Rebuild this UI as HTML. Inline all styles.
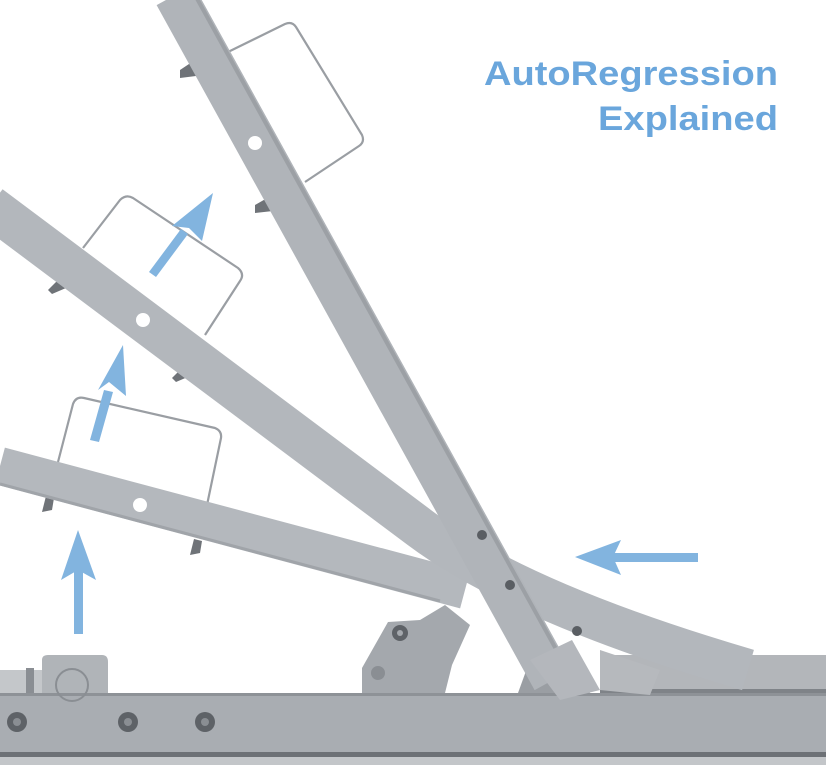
<!DOCTYPE html>
<html><head><meta charset="utf-8"><style>html,body{margin:0;padding:0;background:#fff}svg{display:block}</style></head>
<body>
<svg width="826" height="765" viewBox="0 0 826 765" xmlns="http://www.w3.org/2000/svg">
<rect width="826" height="765" fill="#fff"/>
<!-- handles -->
<g fill="none" stroke="#9a9ea3" stroke-width="2.2" stroke-linejoin="round">
<path d="M228,52 L285,24 Q292,21 296,27 L362,135 Q365,142 359,146 L305,182"/>
<path d="M83,248 L120,200 Q126,194 133,198 L238,268 Q245,274 240,281 L205,335"/>
<path d="M58,462 L73,404 Q76,396 84,398 L215,428 Q222,431 221,438 L207,505"/>
</g>
<!-- studs -->
<g fill="#6f7378">
<path d="M180,70 l12,-8 l4,14 l-16,2z"/><path d="M255,205 l14,-8 l4,14 l-18,2z"/>
<path d="M48,290 l10,-10 l8,8 l-14,6z"/><path d="M172,378 l10,-10 l8,8 l-14,6z"/>
<path d="M42,512 l4,-16 l8,2 l-2,12z"/><path d="M190,555 l4,-16 l8,2 l-2,12z"/>
</g>
<!-- base rail -->
<rect x="0" y="693" width="826" height="60" fill="#a9adb2"/>
<rect x="0" y="693" width="826" height="3" fill="#8e9297"/>
<rect x="0" y="752" width="826" height="5" fill="#6d7176"/>
<rect x="0" y="757" width="826" height="8" fill="#c3c6c9"/>
<rect x="600" y="655" width="226" height="38" fill="#b3b6ba"/>
<rect x="600" y="689" width="226" height="4" fill="#7f8388"/>
<path d="M42,660 Q42,655 48,655 L102,655 Q108,655 108,662 L108,693 L42,693z" fill="#b0b4b8"/>
<rect x="0" y="670" width="42" height="23" fill="#c4c7ca"/>
<rect x="26" y="668" width="8" height="25" fill="#8a8e93"/>
<circle cx="72" cy="685" r="16" fill="none" stroke="#8a8e93" stroke-width="2"/>
<g fill="#5e6267"><circle cx="17" cy="722" r="10"/><circle cx="128" cy="722" r="10"/><circle cx="205" cy="722" r="10"/></g>
<g fill="#8a8e93"><circle cx="17" cy="722" r="4"/><circle cx="128" cy="722" r="4"/><circle cx="205" cy="722" r="4"/></g>
<!-- bracket -->
<path d="M362,668 L388,622 L420,620 L445,605 L470,625 L452,665 L445,693 L362,693z" fill="#a4a8ad"/>
<path d="M518,693 L530,660 L560,650 L590,693z" fill="#9a9ea3"/>
<circle cx="400" cy="633" r="8" fill="#5e6267"/><circle cx="400" cy="633" r="3" fill="#a4a8ad"/>
<circle cx="378" cy="673" r="7" fill="#8a8e93"/>
<!-- bars -->
<g fill="none" stroke-linecap="butt">
<path d="M0,466 L465,590" stroke="#b4b8bd" stroke-width="38"/>
<path d="M0,484 L440,601" stroke="#a0a4a9" stroke-width="3"/>
<path d="M-10,206 L420,528 Q520,603 748,670" stroke="#b3b7bc" stroke-width="42"/>
<path d="M175,-5 L553,680" stroke="#b0b4b9" stroke-width="42"/>
<path d="M195,-5 L573,680" stroke="#9ca0a5" stroke-width="4"/>
</g>
<path d="M530,660 L572,640 L600,690 L560,700z" fill="#b4b7bc"/>
<path d="M600,650 L660,670 L650,695 L600,690z" fill="#b6b9bd"/>
<!-- holes & bolts -->
<g fill="#fff"><circle cx="255" cy="143" r="7"/><circle cx="143" cy="320" r="7"/><circle cx="140" cy="505" r="7"/></g>
<g fill="#5a5e63"><circle cx="482" cy="535" r="5"/><circle cx="510" cy="585" r="5"/><circle cx="577" cy="631" r="5"/></g>
<!-- arrows -->
<g fill="#82b4df">
<rect x="74" y="570" width="9" height="64"/><path d="M78,530 L96,580 L78,570 L61,580z"/>
<path d="M90,440 L99,442 L113,392 L104,390z"/><path d="M123,345 L126,396 L109,382 L98,390z"/>
<path d="M149,272 L156,277 L188,234 L181,229z"/><path d="M213,193 L202,241 L189,228 L172,226z"/>
<rect x="612" y="553" width="86" height="9"/><path d="M575,557 L621,540 L613,557 L621,575z"/>
</g>
<g font-family="Liberation Sans, sans-serif" font-size="34" font-weight="bold" fill="#6aa6dc" text-anchor="end">
<text x="778" y="85" textLength="294" lengthAdjust="spacingAndGlyphs">AutoRegression</text>
<text x="778" y="130" textLength="180" lengthAdjust="spacingAndGlyphs">Explained</text>
</g>
</svg>
</body></html>
